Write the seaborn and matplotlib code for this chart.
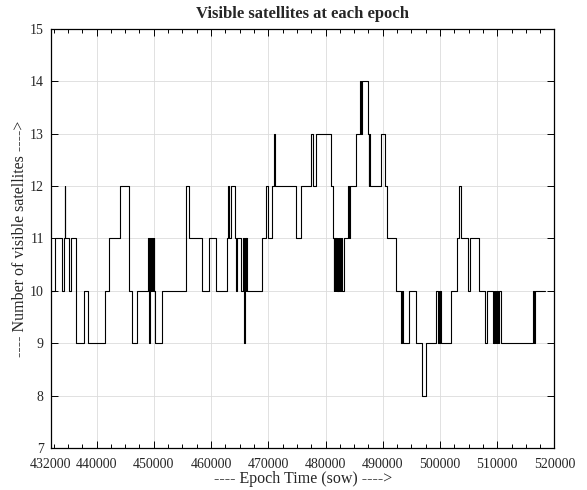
import matplotlib
matplotlib.use("Agg")
import matplotlib.pyplot as plt
import numpy as np
import pandas as pd
import seaborn as sns
from matplotlib.ticker import FixedLocator, MultipleLocator, FuncFormatter

# Epochs (sow) at which the number of visible satellites changes, and the new count
epoch = [432000, 432785, 433950, 434250, 434420, 434520, 435180, 435470, 436340, 436450,
         437800, 438500, 441500, 442210, 444080, 445650, 446110, 447100, 449020, 449150,
         449300, 449500, 449600, 449800, 449950, 450050, 450150, 451350, 455540, 455710,
         456170, 458440, 459660, 460950, 462870, 462970, 463100, 463450, 464200, 464320,
         464450, 465310, 465520, 465770, 465900, 466060, 466150, 466290, 468970, 469670,
         470020, 470720, 471000, 471120, 474760, 475630, 477530, 477800, 478400, 481010,
         481300, 481400, 481500, 481600, 481700, 481800, 481900, 482000, 482100, 482200,
         482350, 482450, 482750, 482850, 483160, 483950, 484150, 484350, 485260, 485960,
         486150, 486300, 487470, 487600, 487650, 487750, 489740, 490440, 490720, 492360,
         493200, 493350, 493500, 494560, 495730, 496830, 497590, 499220, 499620, 499750,
         499900, 500030, 500210, 501950, 502930, 503400, 503700, 504900, 505300, 506830,
         507940, 508170, 509220, 509350, 509500, 509650, 509800, 509950, 510100, 510250,
         510680, 516200, 516400, 516670, 518300]
sats = [10, 11, 10, 11, 12, 11, 10, 11, 10, 9,
        10, 9, 10, 11, 12, 10, 9, 10, 11, 9,
        11, 10, 11, 10, 11, 10, 9, 10, 11, 12,
        11, 10, 11, 10, 11, 12, 11, 12, 11, 10,
        11, 10, 11, 9, 11, 10, 11, 10, 11, 12,
        11, 12, 13, 12, 11, 12, 13, 12, 13, 12,
        11, 10, 11, 10, 11, 10, 11, 10, 11, 10,
        11, 10, 11, 10, 11, 12, 11, 12, 13, 14,
        13, 14, 13, 12, 13, 12, 13, 12, 11, 10,
        9, 10, 9, 10, 9, 8, 9, 10, 9, 10,
        9, 10, 9, 10, 11, 12, 11, 10, 11, 10,
        9, 10, 9, 10, 9, 10, 9, 10, 9, 10,
        9, 10, 9, 10, 10]

xticks = [432000, 440000, 450000, 460000, 470000, 480000, 490000, 500000, 510000, 520000]
yticks = [7, 8, 9, 10, 11, 12, 13, 14, 15]

title = "Visible satellites at each epoch"
xlabel = "---- Epoch Time (sow) ---->"
ylabel = "---- Number of visible satellites ---->"

sns.set_style("ticks")
plt.rcParams["font.family"] = ["Liberation Serif", "DejaVu Serif"]

fig = plt.figure(figsize=(5.87, 4.90), dpi=100)
ax = fig.add_axes([0.0865, 0.0857, 0.8581, 0.8555])

df = pd.DataFrame({"epoch": epoch, "sats": sats})
sns.lineplot(data=df, x="epoch", y="sats", ax=ax, drawstyle="steps-post",
             color="black", linewidth=0.8, estimator=None, sort=False)

ax.set_xlim(432000, 520000)
ax.set_ylim(7, 15)
ax.xaxis.set_major_locator(FixedLocator(xticks))
ax.xaxis.set_minor_locator(MultipleLocator(2500))
ax.yaxis.set_major_locator(FixedLocator(yticks))
ax.xaxis.set_major_formatter(FuncFormatter(lambda v, p: f"{int(round(v))}"))
ax.yaxis.set_major_formatter(FuncFormatter(lambda v, p: f"{int(round(v))}"))

ax.tick_params(which="both", direction="in", top=True, right=True,
               labelsize=10, color="black", width=0.7)
ax.tick_params(axis="x", which="major", pad=7)
ax.tick_params(axis="y", which="major", pad=5)
ax.tick_params(which="major", length=5)
ax.tick_params(which="minor", length=3)

ax.grid(True, which="major", color="#dcdcdc", linewidth=0.6)
ax.set_axisbelow(True)
for s in ax.spines.values():
    s.set_visible(True)
    s.set_color("black")
    s.set_linewidth(0.9)

ax.set_title(title, fontweight="bold", fontsize=12, pad=8)
ax.set_xlabel(xlabel, fontsize=11.5, labelpad=0)
ax.set_ylabel(ylabel, fontsize=11.5, labelpad=1)

fig.savefig("out.png", dpi=100)
